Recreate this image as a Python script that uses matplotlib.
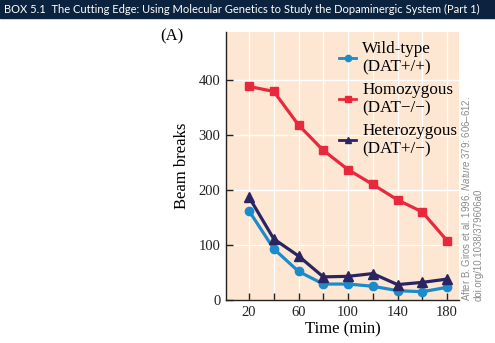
import matplotlib
matplotlib.use("Agg")
import matplotlib.pyplot as plt

plt.rcParams['mathtext.fontset'] = 'custom'
plt.rcParams['mathtext.it'] = 'Liberation Sans:italic'
plt.rcParams['mathtext.rm'] = 'Liberation Sans'

time = [20, 40, 60, 80, 100, 120, 140, 160, 180]
wild_type = [162, 93, 52, 29, 29, 25, 17, 15, 23]
homozygous = [388, 379, 318, 272, 237, 210, 182, 160, 108]
heterozygous = [187, 111, 80, 42, 43, 48, 28, 32, 38]
xtick_vals = [20, 40, 60, 80, 100, 120, 140, 160, 180]
xtick_labels = ["20", "", "60", "", "100", "", "140", "", "180"]
ytick_vals = [0, 100, 200, 300, 400]
labels = ["Wild-type\n(DAT+/+)", "Homozygous\n(DAT\u2212/\u2212)", "Heterozygous\n(DAT+/\u2212)"]

W, H = 495, 343
fig = plt.figure(figsize=(W / 100, H / 100), dpi=100)

# header bar
fig.patches.append(plt.Rectangle((0, 1 - 18 / H), 1, 18 / H, transform=fig.transFigure,
                                 color="#0c2340", zorder=0))
fig.text(4 / W, 1 - 9 / H, "BOX 5.1  The Cutting Edge: Using Molecular Genetics to Study the Dopaminergic System (Part 1)",
         color="white", fontsize=8.05, family="Lato", va="center", ha="left")

ax = fig.add_axes([226 / W, (H - 300) / H, (459 - 226) / W, (300 - 32) / H])
ax.set_facecolor("#fde7d2")
ax.set_xlim(1.4, 189.7)
ax.set_ylim(0, 487)
for s in ["top", "right"]:
    ax.spines[s].set_visible(False)
for s in ["left", "bottom"]:
    ax.spines[s].set_linewidth(1.0)
    ax.spines[s].set_color("#222222")
ax.set_xticks(xtick_vals)
ax.set_xticklabels(xtick_labels)
ax.set_yticks(ytick_vals)
ax.tick_params(direction="in", length=5, width=1, labelsize=10.5, colors="#222222", pad=4)
for lab in ax.get_xticklabels() + ax.get_yticklabels():
    lab.set_family("Liberation Serif")
ax.grid(True, color="white", linewidth=0.9)
ax.set_axisbelow(True)

ax.plot(time, wild_type, color="#1b8bcb", lw=2.3, marker="o", ms=6, label=labels[0], zorder=3)
ax.plot(time, homozygous, color="#e8283c", lw=2.3, marker="s", ms=6, label=labels[1], zorder=3)
ax.plot(time, heterozygous, color="#2a2560", lw=2.3, marker="^", ms=7, label=labels[2], zorder=3)

leg = ax.legend(loc="upper right", frameon=False, prop={"family": "Liberation Serif", "size": 12.3},
                handlelength=1.0, handletextpad=0.35, labelspacing=0.4, borderaxespad=0.1,
                bbox_to_anchor=(1.03, 1.0))
for h in leg.legend_handles:
    h.set_markersize(4.5)
    h.set_linewidth(2)
for t in leg.get_texts():
    t.set_linespacing(1.2)

ax.set_xlabel("Time (min)", family="Liberation Serif", fontsize=12, labelpad=2)
ax.set_ylabel("Beam breaks", family="Liberation Serif", fontsize=12, labelpad=6)

fig.text(172 / W, 1 - 36 / H, "(A)", family="Liberation Serif", fontsize=12, ha="center", va="center")

fig.text(472 / W, 1 - 301 / H,
         "After B. Giros et al. 1996. $Nature$ 379: 606\u2013612.\ndoi.org/10.1038/379606a0",
         rotation=90, family="Liberation Sans", fontsize=6.9, color="#8a8a8a",
         ha="center", va="bottom", multialignment="left", linespacing=1.15)

fig.savefig("out.png", dpi=100)
